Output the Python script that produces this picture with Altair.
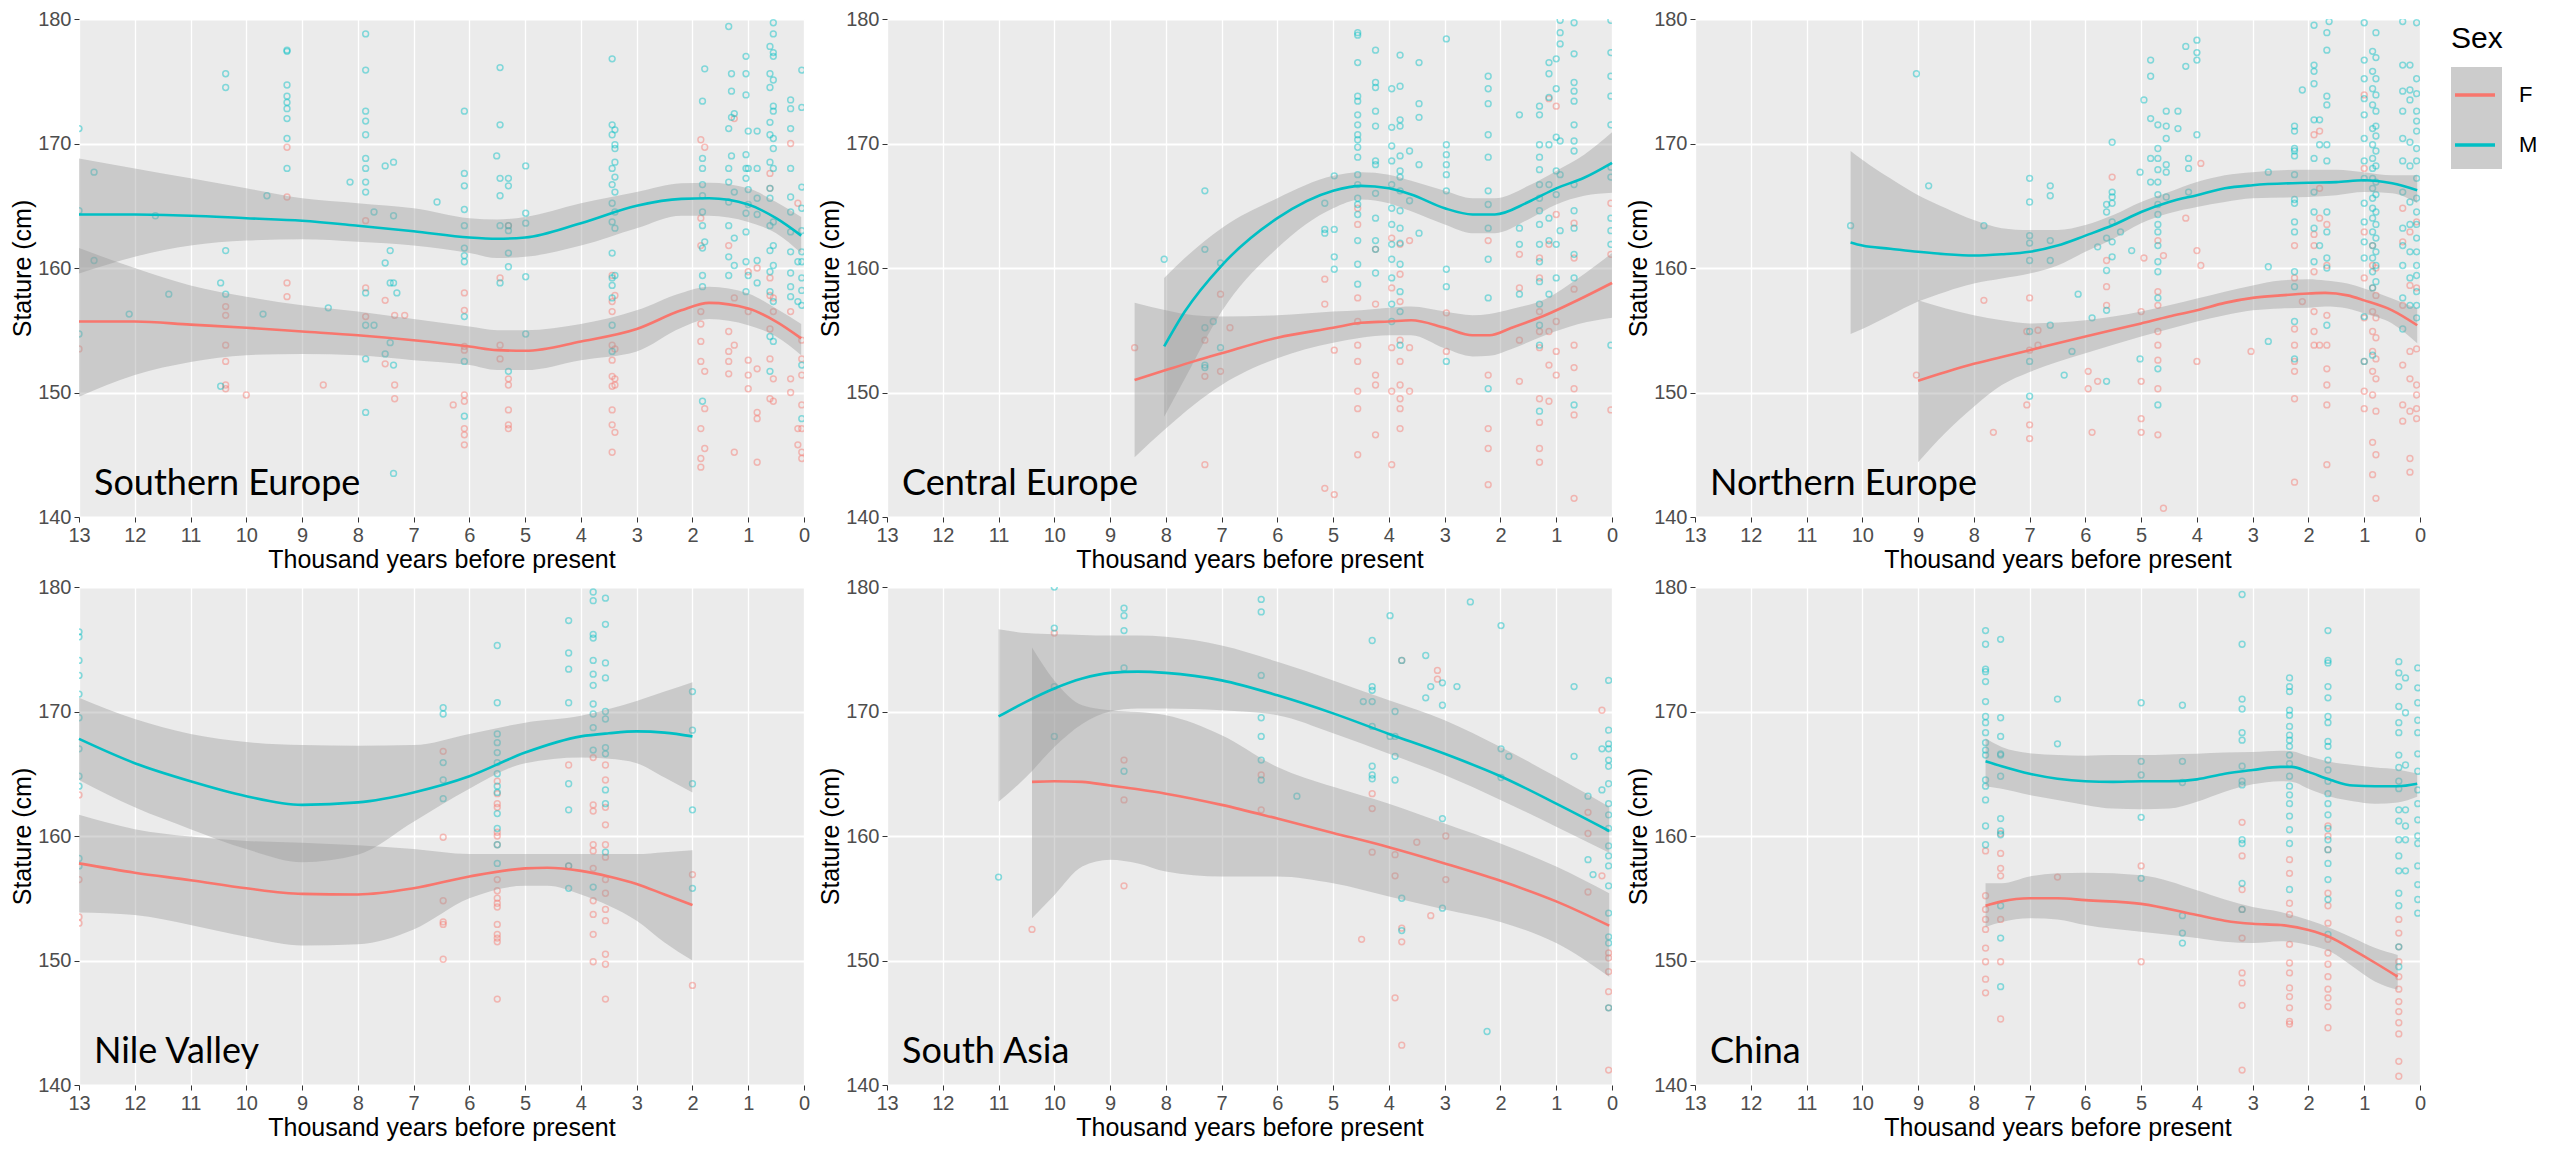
import altair as alt
import pandas as pd

FEMALE = "#F8766D"
MALE = "#00BFC4"
BAND = "#999999"

panel_names = ["Southern Europe", "Central Europe", "Northern Europe",
               "Nile Valley", "South Asia", "China"]
sexes = ["F", "M"]
x_ticks = list(range(0, 14))
y_ticks = [140, 150, 160, 170, 180]

# individual statures: date (thousand years BP) -> list of statures (cm)
se_m = {
    13.0: [171.2, 164.6, 154.7], 12.73: [167.7, 160.6], 12.1: [156.3], 11.63: [164.2],
    11.39: [157.9], 10.46: [158.8, 150.5], 10.37: [175.6, 174.5, 161.4, 157.9],
    9.7: [156.3], 9.63: [165.8],
    9.27: [177.5, 177.4, 174.7, 173.8, 173.3, 172.8, 172.0, 170.4, 168.0],
    8.53: [156.8], 8.14: [166.9],
    7.86: [178.8, 175.9, 172.6, 171.8, 170.7, 168.8, 168.0, 166.9, 166.1, 158.0, 155.4, 152.7, 148.4],
    7.71: [164.5, 155.4], 7.51: [168.2, 160.4, 153.1], 7.42: [161.4, 158.8, 154.0],
    7.36: [168.5, 164.2, 158.8, 152.2, 143.5], 7.3: [158.0], 6.58: [165.3],
    6.09: [172.6, 167.6, 166.6, 164.7, 163.4, 161.6, 161.0, 160.5, 156.1, 152.5, 148.1],
    5.51: [169.0], 5.45: [176.1, 171.5, 167.2, 165.8, 163.4, 158.8],
    5.3: [167.2, 166.6, 163.4, 163.0, 161.2, 160.1, 151.7],
    4.99: [168.2, 164.4, 163.6, 159.3, 154.7],
    3.44: [176.8, 171.5, 170.7, 168.0, 166.7, 165.2, 163.7, 161.2, 159.2, 158.6, 157.6, 155.4, 153.3],
    3.39: [171.1, 169.9, 169.6, 168.5, 167.3, 166.1, 164.5, 163.2, 159.4],
    1.82: [173.4, 168.8, 168.0, 166.7, 165.8, 164.5, 163.4, 161.6, 159.4, 158.5, 149.3],
    1.78: [176.0, 162.1], 1.35: [179.4, 171.2, 168.0, 166.9, 165.3, 163.4, 160.9, 159.4],
    1.30: [175.6, 174.2, 172.1, 169.0], 1.25: [172.4, 166.1, 162.4, 160.2],
    1.04: [177.0, 175.6, 173.9, 169.1, 168.0, 167.2, 164.4, 162.9, 160.5, 158.1],
    1.0: [171.0, 168.0, 166.3, 165.1, 159.4], 0.84: [171.0, 168.0, 165.6, 164.3, 160.6, 158.8],
    0.61: [177.8, 175.6, 174.5, 171.7, 170.7, 168.5, 166.4, 165.6, 163.4, 161.4, 159.7, 158.1, 154.5, 151.7],
    0.55: [179.7, 178.8, 177.3, 177.0, 175.1, 173.0, 172.6, 170.4, 169.6, 168.0, 163.7, 161.8, 160.2, 157.3, 154.1],
    0.24: [173.5, 172.8, 171.2, 168.0, 165.7, 164.5, 162.9, 161.3, 159.6, 158.5, 157.7],
    0.11: [160.5, 157.3],
    0.04: [175.9, 172.9, 166.5, 164.8, 163.0, 161.3, 160.5, 159.2, 158.2, 157.0, 152.2, 147.9],
}
se_f = {
    13.0: [153.5], 10.37: [156.9, 156.2, 153.8, 152.5, 150.6, 150.3], 10.0: [149.8],
    9.27: [169.7, 165.7, 158.8, 157.7], 8.62: [150.6], 7.86: [163.8, 158.4, 156.1],
    7.51: [157.4, 152.3], 7.34: [156.2, 150.6, 149.5], 7.16: [156.2], 6.29: [149.0],
    6.09: [158.0, 156.6, 153.7, 153.4, 149.8, 149.3, 147.1, 146.6, 145.8],
    5.45: [159.2, 153.8, 152.7], 5.3: [163.4, 151.1, 150.6, 148.6, 147.4, 147.1],
    3.44: [159.4, 157.3, 156.5, 153.8, 152.6, 151.3, 150.5, 148.6, 147.4, 145.2],
    3.39: [157.8, 153.5, 151.1, 150.6, 146.8],
    1.85: [170.3, 164.0, 161.8, 156.5, 155.5, 154.1, 152.5, 147.1, 144.7, 144.0],
    1.78: [169.7, 151.7, 148.7, 145.5], 1.35: [161.8, 154.9, 153.3, 152.5, 151.5],
    1.25: [172.0, 157.6, 153.8, 145.2], 1.0: [159.7, 156.5, 152.6, 151.4, 150.3],
    0.84: [160.0, 151.9, 148.4, 147.9, 144.4],
    0.61: [167.6, 166.4, 159.2, 157.8, 155.1, 152.7, 149.5],
    0.55: [157.6, 156.5, 151.1, 149.3], 0.24: [170.0, 156.5, 151.1, 150.0],
    0.11: [165.2, 147.1, 145.8], 0.04: [154.2, 152.7, 151.4, 149.0, 147.1, 145.2, 144.7],
}
ce_m = {
    8.03: [160.7], 7.3: [166.2, 161.5, 155.2, 152.2, 152.0], 7.15: [155.7], 7.02: [160.4, 153.6],
    5.15: [165.2, 163.1, 162.8], 4.98: [167.4, 163.1, 160.9, 159.9],
    4.56: [178.9, 178.7, 176.5, 173.8, 173.4, 172.3, 171.5, 170.7, 170.3, 169.7, 168.9, 167.5,
           166.7, 165.6, 165.1, 164.3, 162.2, 160.3, 158.7],
    4.24: [177.5, 174.9, 174.5, 172.6, 171.4, 168.6, 168.3, 166.0, 164.0, 162.2, 161.5, 159.6],
    3.95: [174.4, 171.3, 169.8, 168.6, 166.7, 164.8, 163.5, 161.9, 160.7, 159.2, 157.1, 155.7],
    3.8: [177.1, 174.6, 171.9, 171.4, 169.0, 167.8, 167.3, 166.2, 164.6, 163.2, 162.0, 160.3,
          158.1, 156.5, 153.8],
    3.63: [169.4, 165.4], 3.46: [176.5, 173.2, 172.1, 168.3, 162.8],
    2.97: [178.4, 169.9, 169.1, 168.3, 167.5, 166.2, 159.9, 158.5, 152.5],
    2.22: [175.4, 174.4, 173.2, 170.7, 168.9, 166.2, 165.1, 163.2, 160.7, 157.6, 150.3],
    1.66: [172.3, 163.2, 161.9, 157.9],
    1.3: [173.0, 172.3, 169.9, 168.9, 167.9, 166.7, 165.6, 164.6, 163.5, 161.9, 160.5, 158.9,
          157.1, 155.4, 153.8, 148.5],
    1.13: [176.5, 175.6, 173.7, 169.9, 166.7, 164.0, 162.2, 157.9],
    1.0: [176.8, 174.4, 170.5, 167.8, 165.9, 161.9, 159.2],
    0.93: [179.9, 178.9, 178.0, 170.2, 167.5, 163.0],
    0.68: [179.7, 177.2, 174.9, 174.2, 173.4, 171.5, 170.2, 169.4, 166.7, 164.6, 163.2, 161.1,
           159.2, 149.0],
    0.02: [179.9, 177.3, 175.4, 173.8, 171.5, 168.1, 167.3, 164.0, 163.0, 161.9, 153.8],
}
ce_f = {
    8.56: [153.6], 7.3: [154.2, 151.3, 144.2], 7.02: [157.9, 151.7], 6.85: [155.2],
    5.15: [159.1, 157.1, 142.3], 4.98: [153.4, 141.8],
    4.56: [164.8, 163.5, 157.6, 155.7, 153.8, 152.5, 150.1, 148.7, 145.0],
    4.24: [161.5, 157.1, 151.4, 150.6, 146.6], 3.95: [162.4, 158.4, 153.6, 150.1, 144.2],
    3.8: [161.9, 159.5, 157.3, 154.2, 152.5, 150.6, 149.5, 148.7, 147.1],
    3.63: [162.2, 153.6, 150.1], 2.97: [156.4, 153.3],
    2.22: [162.2, 151.4, 147.1, 145.5, 142.6], 1.66: [161.1, 158.4, 154.2, 150.9],
    1.3: [160.8, 159.2, 156.5, 154.9, 153.6, 149.5, 147.6, 145.5, 144.4],
    1.13: [173.6, 161.9, 154.9, 152.2, 149.3], 1.0: [173.0, 164.3, 155.7, 153.3, 151.4],
    0.68: [163.6, 160.8, 158.3, 153.8, 152.0, 150.3, 148.2, 141.5], 0.02: [165.2, 161.1, 148.6],
}
ne_m = {
    10.21: [163.4], 9.03: [175.6], 8.81: [166.6], 7.82: [163.4],
    7.0: [167.2, 165.3, 162.6, 162.0, 160.6, 154.9, 152.5, 149.7],
    6.63: [166.6, 165.8, 162.2, 160.6, 155.4], 6.38: [151.4], 6.24: [153.3], 6.13: [157.9],
    5.88: [156.0], 5.78: [161.7], 5.62: [165.1, 164.5, 162.4, 159.8, 156.6, 150.9],
    5.52: [170.1, 166.1, 165.7, 165.2, 163.7, 162.1, 160.9], 5.37: [162.9], 5.17: [161.4],
    5.02: [167.7, 152.7], 4.95: [173.5], 4.83: [176.7, 175.4, 172.0, 168.8, 166.9],
    4.7: [171.5, 169.6, 168.8, 167.9, 166.9, 165.9, 165.1, 164.3, 163.5, 162.9, 161.8, 160.5,
          159.7, 157.6, 151.9, 149.0],
    4.55: [172.6, 171.4, 170.4, 168.3, 167.7, 165.7], 4.34: [172.6, 171.2], 4.2: [177.8, 176.2],
    4.15: [168.8, 168.0, 166.1], 4.0: [178.3, 177.3, 176.7, 170.7], 2.72: [167.7, 160.1, 154.1],
    2.25: [171.4, 171.0, 169.6, 169.4, 169.0, 167.5, 165.5, 165.2, 163.7, 162.9, 159.7, 158.5,
           155.7, 152.7],
    2.11: [174.3], 1.9: [179.5, 176.3, 175.8, 174.8, 171.9, 168.8, 166.1, 164.5, 163.2, 160.5],
    1.8: [171.9, 169.9, 161.8],
    1.67: [178.9, 177.5, 173.8, 173.1, 169.9, 168.6, 164.5, 162.9, 160.8, 160.0, 155.4],
    1.63: [179.8],
    1.0: [179.7, 176.7, 175.2, 173.6, 172.3, 170.4, 168.6, 167.2, 165.2, 163.7, 162.1, 160.8,
          156.1, 152.5],
    0.85: [177.4, 175.8, 174.4, 173.1, 171.2, 169.9, 168.8, 168.0, 167.2, 166.4, 165.6, 164.8,
           164.0, 162.9, 161.8, 160.8, 159.7, 158.4, 153.0],
    0.79: [178.9, 176.9, 175.2, 173.9, 172.6, 171.4, 170.6, 169.4, 168.2, 166.9, 165.9, 164.5,
           163.5, 162.4, 161.3, 160.2, 158.9],
    0.31: [179.8, 176.3, 174.2, 172.6, 170.4, 168.6, 166.1, 163.2, 161.8, 160.2, 157.6, 155.1],
    0.18: [176.3, 174.3, 173.5, 170.1, 168.2, 165.3, 163.5, 161.3, 159.2, 157.0],
    0.06: [179.7, 175.2, 174.0, 172.6, 171.8, 171.0, 169.6, 168.6, 167.2, 165.6, 164.5, 163.5,
           162.4, 161.3, 160.2, 159.4, 158.1, 157.0, 156.0],
}
ne_f = {
    9.03: [151.4], 7.82: [157.4], 7.65: [146.8], 7.05: [154.9, 149.0],
    7.0: [157.6, 153.4, 147.4, 146.3], 6.85: [155.0, 153.8], 5.95: [151.7, 150.3],
    5.88: [146.8], 5.78: [150.9], 5.62: [160.6, 158.5, 157.0], 5.52: [167.3],
    5.0: [156.5, 150.9, 147.9, 146.8], 4.95: [160.8],
    4.7: [162.2, 158.1, 157.0, 154.9, 153.8, 152.6, 150.3, 146.6], 4.6: [161.0, 140.7],
    4.2: [164.0], 4.0: [161.4, 152.5], 3.93: [168.4, 160.2], 3.03: [153.3],
    2.25: [161.8, 159.2, 155.1, 153.8, 152.5, 151.7, 149.5, 142.8], 2.11: [157.3],
    1.9: [170.7, 162.7, 161.8, 159.7, 156.5, 154.9, 153.8], 1.8: [171.0, 166.4, 164.0, 153.8],
    1.67: [163.5, 160.2, 156.2, 153.8, 151.9, 150.6, 149.0, 144.2],
    1.0: [173.9, 168.0, 162.9, 159.2, 156.0, 152.5, 150.1, 148.7],
    0.85: [161.8, 160.2, 158.4, 156.5, 154.9, 153.3, 151.7, 149.8, 146.0, 143.4],
    0.79: [160.0, 157.8, 156.0, 154.4, 152.7, 151.1, 148.5, 145.0, 141.5],
    0.31: [164.8, 162.1, 157.0, 152.2, 149.0, 147.7],
    0.18: [162.9, 158.6, 153.3, 151.1, 148.5, 144.7, 143.6],
    0.06: [163.7, 158.4, 153.5, 150.6, 149.8, 148.7, 147.9],
}
nv_m = {
    13.0: [176.4, 176.0, 174.1, 172.9, 171.4, 169.5, 167.0, 164.8, 164.0, 158.2, 157.6],
    6.47: [170.3, 169.8, 165.9, 164.5, 163.0],
    5.5: [175.3, 170.7, 168.2, 167.5, 166.7, 165.9, 165.0, 164.0, 163.5, 161.8, 160.6, 159.3, 157.8],
    4.22: [177.3, 174.7, 173.4, 170.7, 164.2, 162.1, 157.6, 155.8],
    3.78: [179.6, 178.9, 176.2, 175.9, 174.1, 173.0, 172.1, 170.6, 169.8, 168.7, 166.9, 155.9],
    3.56: [179.1, 177.0, 173.9, 172.7, 170.0, 169.4, 167.1, 166.6, 163.7, 162.6, 158.7],
    2.0: [171.6, 168.5, 164.2, 162.1, 155.8],
}
nv_f = {
    13.0: [163.3, 156.5, 153.5, 153.0], 6.47: [166.8, 159.9, 154.8, 153.1, 152.9, 150.1],
    5.5: [164.4, 163.4, 162.6, 162.3, 160.3, 160.0, 159.3, 156.5, 155.6, 155.0, 154.6, 154.3,
          152.9, 152.1, 151.8, 151.5, 146.9],
    4.22: [165.7, 157.6],
    3.78: [166.3, 162.5, 162.0, 159.3, 158.8, 157.4, 154.8, 153.7, 152.1, 149.9],
    3.56: [165.7, 164.5, 162.3, 160.9, 159.3, 158.3, 156.5, 155.4, 154.1, 153.2, 150.5, 149.7, 146.9],
    2.0: [156.9, 148.0],
}
sa_m = {
    11.0: [156.7], 10.0: [180.0, 176.7, 172.0, 168.0], 8.75: [178.3, 177.7, 176.5, 173.5, 165.2],
    6.29: [179.0, 178.0, 172.9, 169.5, 168.0, 166.1, 164.5], 5.65: [163.2], 4.46: [170.8],
    4.3: [175.7, 172.0, 171.7, 170.8, 168.8, 165.6, 164.9, 164.6], 3.98: [177.7, 168.0],
    3.89: [170.0, 168.0, 166.4, 164.5], 3.77: [174.1, 155.0, 152.4], 3.34: [174.5, 171.1],
    3.25: [172.0], 3.04: [172.3, 170.5, 161.4, 154.2], 2.78: [172.0], 2.54: [178.8],
    2.24: [144.3], 1.99: [176.9, 167.0, 164.7], 1.85: [166.4], 0.68: [172.0, 166.4],
    0.43: [163.2, 158.1], 0.34: [156.9], 0.18: [167.0, 163.7],
    0.06: [172.5, 168.5, 167.4, 167.0, 166.1, 165.6, 164.2, 162.6, 161.7, 160.6, 159.2, 158.4,
           157.6, 156.0, 153.8, 151.9, 151.4, 146.2],
}
sa_f = {
    10.4: [152.5], 10.0: [176.3], 8.75: [166.1, 162.9, 156.0], 6.29: [164.9, 162.1],
    4.49: [151.7], 4.3: [163.4, 162.2, 158.7], 3.89: [158.5, 156.8, 147.0],
    3.77: [174.1, 152.6, 151.5, 143.2], 3.5: [159.5], 3.25: [153.6], 3.13: [173.3, 172.6],
    2.98: [160.0, 156.5], 0.43: [161.9, 160.2, 155.5], 0.18: [170.1, 156.8],
    0.06: [150.6, 150.2, 149.1, 147.5, 146.2, 141.2],
}
cn_m = {
    7.79: [176.5, 175.4, 173.4, 173.2, 172.4, 170.8, 169.6, 169.1, 168.3, 167.5, 166.9, 166.5,
           164.5, 164.0, 162.9, 160.8, 159.3],
    7.52: [175.8, 169.5, 168.0, 166.6, 166.5, 164.8, 161.4, 160.4, 160.1, 154.4, 151.8, 147.9],
    6.5: [171.0, 167.4], 5.0: [170.7, 166.0, 164.9, 161.5, 156.6],
    4.26: [170.5, 166.0, 164.3, 153.6, 152.2, 151.4],
    3.19: [179.4, 175.4, 171.0, 170.2, 168.3, 167.7, 165.6, 164.4, 164.1, 159.7, 159.4, 156.2, 154.1],
    2.34: [172.7, 172.0, 171.6, 170.1, 169.7, 168.8, 168.1, 167.7, 167.2, 166.5, 165.8, 164.8,
           164.0, 163.3, 162.6, 161.6, 160.5, 159.4, 155.7],
    1.65: [176.5, 174.1, 173.9, 172.0, 171.1, 169.6, 169.1, 167.6, 167.2, 166.1, 165.3, 164.4,
           163.4, 162.6, 161.7, 160.6, 159.7, 158.9, 157.8, 156.5, 154.9, 152.1],
    0.38: [174.0, 173.1, 172.0, 170.4, 169.1, 168.3, 166.5, 165.5, 164.4, 163.8, 162.1, 161.2,
           159.7, 158.4, 157.2, 155.4, 154.4, 151.1, 149.5],
    0.26: [172.7, 169.9, 165.7, 162.1, 160.8, 159.7, 157.2],
    0.04: [173.5, 171.9, 170.7, 169.3, 168.3, 166.6, 165.2, 163.7, 162.6, 161.3, 160.0, 159.4,
           157.6, 156.1, 154.9, 153.8],
}
cn_f = {
    7.79: [158.8, 155.2, 154.1, 153.3, 152.5, 151.0, 149.9, 148.5, 147.4],
    7.52: [160.2, 158.6, 157.4, 156.8, 153.3, 149.9, 145.3], 6.5: [156.7], 5.0: [157.6, 149.9],
    3.19: [161.1, 158.4, 155.7, 154.1, 151.8, 149.0, 148.2, 146.4, 141.2],
    2.34: [158.1, 157.0, 154.6, 153.7, 151.3, 149.8, 149.0, 147.8, 147.1, 146.2, 145.1, 144.9],
    1.65: [160.8, 160.0, 158.9, 155.4, 154.4, 153.0, 151.7, 150.6, 149.7, 148.7, 147.7, 147.0,
           146.3, 144.6],
    0.38: [153.3, 152.2, 151.1, 149.9, 148.7, 147.7, 146.7, 145.9, 145.0, 144.1, 141.9, 140.7],
}

# loess fits: (dates, fit, lower 95%, upper 95%)
se_m_fit = (
    [13, 12, 11, 10, 9, 8, 7, 6, 5.5, 5, 4, 3, 2.2, 1.7, 1, 0.5, 0.05],
    [164.3, 164.3, 164.2, 164.0, 163.8, 163.4, 162.95, 162.45, 162.35, 162.45, 163.6, 165.0,
     165.55, 165.6, 165.1, 164.0, 162.6],
    [159.55, 160.9, 161.8, 162.2, 162.3, 162.1, 161.8, 161.2, 160.8, 160.9, 161.8, 163.2,
     164.2, 164.2, 163.7, 162.8, 161.2],
    [168.8, 168.0, 167.2, 166.4, 165.6, 165.2, 164.8, 164.0, 163.9, 164.1, 165.2, 166.1,
     166.8, 166.85, 166.4, 165.3, 164.1],
)
se_f_fit = (
    [13, 12, 11, 10, 9, 8, 7, 6, 5.5, 5, 4, 3, 2.2, 1.7, 1, 0.5, 0.05],
    [155.7, 155.7, 155.45, 155.2, 154.9, 154.6, 154.2, 153.7, 153.4, 153.35, 154.1, 155.1,
     156.6, 157.2, 156.75, 155.7, 154.35],
    [149.65, 151.4, 152.45, 153.0, 153.1, 153.0, 152.6, 152.2, 151.8, 151.8, 152.6, 153.3,
     155.2, 155.9, 155.4, 154.5, 153.0],
    [161.6, 160.0, 158.6, 157.7, 157.0, 156.5, 155.9, 155.3, 155.0, 155.0, 155.5, 156.6,
     158.0, 158.5, 157.95, 156.75, 155.5],
)
ce_m_fit = (
    [8.03, 7.66, 7, 6, 5, 4.5, 4, 3.6, 3, 2.5, 2.1, 1.5, 1, 0.5, 0],
    [153.7, 156.5, 160.2, 164.0, 166.2, 166.6, 166.4, 165.9, 164.8, 164.3, 164.3, 165.3,
     166.4, 167.25, 168.45],
    [148.05, 151.1, 156.5, 161.6, 164.8, 165.5, 165.2, 164.55, 163.5, 162.8, 162.8, 163.9,
     165.1, 165.8, 166.05],
    [159.2, 160.8, 163.2, 165.6, 167.4, 167.7, 167.5, 167.0, 166.2, 165.6, 165.6, 166.6,
     167.8, 169.1, 170.9],
)
ce_f_fit = (
    [8.56, 8, 7.5, 7, 6, 5, 4.5, 4, 3.6, 3, 2.5, 2.2, 1.8, 1.2, 0.6, 0],
    [151.0, 151.8, 152.5, 153.15, 154.4, 155.2, 155.6, 155.7, 155.8, 155.2, 154.6, 154.6,
     155.2, 156.2, 157.45, 158.8],
    [144.8, 147.1, 149.0, 150.6, 152.75, 154.0, 154.4, 154.6, 154.6, 153.55, 152.9, 152.95,
     153.5, 154.6, 155.5, 156.0],
    [157.2, 156.6, 156.2, 156.1, 156.2, 156.5, 156.6, 156.8, 156.9, 156.5, 156.2, 156.3,
     156.7, 157.5, 159.2, 161.2],
)
ne_m_fit = (
    [10.21, 10, 9.5, 9, 8.5, 8, 7.5, 7, 6.5, 6, 5.5, 5, 4.5, 4, 3.5, 3, 2, 1.5, 1, 0.5, 0.05],
    [162.05, 161.8, 161.55, 161.3, 161.1, 161.0, 161.1, 161.3, 161.8, 162.6, 163.45, 164.5,
     165.3, 165.85, 166.4, 166.65, 166.85, 166.9, 167.05, 166.8, 166.25],
    [154.7, 155.1, 156.2, 157.3, 158.1, 158.75, 159.15, 159.55, 160.2, 161.3, 162.35, 163.6,
     164.4, 164.9, 165.3, 165.6, 165.7, 165.85, 166.1, 166.0, 165.2],
    [169.4, 168.7, 167.2, 165.85, 164.8, 163.85, 163.2, 163.05, 163.05, 163.45, 164.25, 165.3,
     166.1, 166.9, 167.45, 167.7, 167.9, 167.9, 167.7, 167.45, 167.45],
)
ne_f_fit = (
    [9, 8.5, 8, 7.5, 7, 6, 5, 4.5, 4, 3.5, 3, 2.5, 2, 1.7, 1.3, 1, 0.5, 0.05],
    [150.95, 151.65, 152.3, 152.85, 153.4, 154.5, 155.55, 156.1, 156.6, 157.2, 157.6, 157.8,
     157.95, 158.0, 157.8, 157.4, 156.6, 155.4],
    [144.4, 146.8, 148.85, 150.6, 151.65, 153.15, 154.5, 155.1, 155.7, 156.2, 156.6, 156.75,
     156.8, 156.9, 156.75, 156.35, 155.55, 153.95],
    [157.4, 156.75, 156.2, 155.8, 155.55, 155.8, 156.5, 157.0, 157.55, 158.1, 158.6, 159.0,
     159.1, 159.0, 158.75, 158.35, 157.55, 156.75],
)
nv_m_fit = (
    [13, 12, 11, 10, 9, 8, 7, 6, 5, 4, 3.5, 3, 2.5, 2],
    [167.8, 165.85, 164.4, 163.2, 162.5, 162.7, 163.5, 164.8, 166.7, 168.0, 168.25, 168.4,
     168.3, 168.0],
    [164.5, 162.3, 160.55, 158.95, 157.9, 158.5, 161.15, 163.8, 165.85, 166.3, 166.2, 165.85,
     164.7, 163.5],
    [171.1, 169.4, 168.2, 167.55, 167.3, 167.25, 167.3, 168.2, 169.1, 169.65, 170.2, 170.85,
     171.6, 172.35],
)
nv_f_fit = (
    [13, 12, 11, 10, 9, 8, 7, 6, 5, 4.6, 4, 3.5, 3, 2.5, 2],
    [157.8, 157.05, 156.45, 155.8, 155.35, 155.3, 155.8, 156.75, 157.4, 157.45, 157.2, 156.75,
     156.15, 155.3, 154.45],
    [153.85, 153.65, 152.85, 151.9, 151.2, 151.3, 152.5, 155.0, 156.0, 156.0, 155.3, 154.4,
     153.2, 151.45, 150.0],
    [161.7, 160.55, 159.95, 159.6, 159.45, 159.25, 158.95, 158.55, 158.55, 158.55, 158.55,
     158.55, 158.55, 158.7, 158.85],
)
sa_m_fit = (
    [11, 10.5, 10, 9.5, 9, 8.5, 8, 7, 6, 5, 4, 3, 2, 1, 0.05],
    [169.6, 170.8, 171.85, 172.65, 173.1, 173.2, 173.1, 172.5, 171.3, 169.85, 168.2, 166.6,
     164.8, 162.6, 160.4],
    [162.75, 164.75, 167.15, 169.0, 170.0, 170.25, 170.25, 170.1, 169.7, 168.25, 166.6, 164.9,
     162.9, 160.75, 158.65],
    [176.6, 176.3, 176.2, 176.15, 176.1, 176.1, 176.0, 175.3, 174.0, 172.5, 170.9, 169.3,
     167.15, 164.75, 162.35],
)
sa_f_fit = (
    [10.4, 10, 9.5, 9, 8.5, 8, 7, 6, 5, 4, 3, 2, 1, 0.05],
    [164.35, 164.4, 164.35, 164.05, 163.75, 163.4, 162.5, 161.4, 160.25, 159.1, 157.8, 156.4,
     154.75, 152.8],
    [153.4, 155.25, 157.55, 158.1, 157.8, 157.15, 156.75, 156.75, 156.2, 155.15, 154.1, 153.1,
     151.4, 148.7],
    [175.15, 172.5, 170.5, 170.1, 169.95, 169.7, 168.1, 165.55, 163.95, 162.6, 161.0, 159.4,
     157.55, 155.4],
)
cn_m_fit = (
    [7.79, 7.5, 7, 6.5, 6, 5.5, 5, 4.5, 4, 3.5, 3, 2.5, 2.3, 2.0, 1.6, 1.2, 0.8, 0.4, 0.05],
    [166.0, 165.6, 165.0, 164.6, 164.4, 164.35, 164.4, 164.4, 164.55, 165.0, 165.3, 165.55,
     165.55, 165.15, 164.5, 164.05, 164.0, 164.0, 164.2],
    [164.0, 163.8, 163.3, 162.9, 162.5, 162.2, 162.15, 162.2, 162.75, 163.55, 164.15, 164.4,
     164.35, 163.8, 163.15, 162.8, 162.6, 162.7, 163.15],
    [167.85, 167.15, 166.65, 166.5, 166.45, 166.5, 166.5, 166.55, 166.6, 166.7, 166.75, 166.85,
     166.8, 166.4, 165.95, 165.7, 165.5, 165.35, 165.0],
)
cn_f_fit = (
    [7.79, 7.5, 7, 6.5, 6, 5, 4, 3.5, 3, 2.5, 2, 1.6, 1.2, 0.8, 0.4],
    [154.4, 154.75, 155.0, 155.0, 154.85, 154.55, 153.65, 153.2, 152.95, 152.85, 152.45,
     151.85, 150.85, 149.8, 148.7],
    [152.7, 153.1, 153.4, 153.3, 152.85, 152.3, 151.8, 151.5, 151.4, 151.55, 151.25, 150.7,
     149.5, 148.3, 147.65],
    [156.2, 156.2, 156.75, 157.0, 157.05, 156.85, 155.65, 154.9, 154.3, 153.9, 153.25, 152.6,
     151.8, 151.0, 150.45],
)

FONT = "Liberation Sans"
sex_scale = alt.Scale(domain=sexes, range=[FEMALE, MALE])
x_scale = alt.Scale(domain=[0, 13], reverse=True, nice=False, zero=False)
y_scale = alt.Scale(domain=[140, 180], nice=False, zero=False)
x_axis = alt.Axis(values=x_ticks, title="Thousand years before present")
y_axis = alt.Axis(values=y_ticks, title="Stature (cm)")

W, H = 725, 498


def to_points(sex, cols):
    rows = [{"kya": k, "stature": v, "sex": sex} for k, vals in cols.items() for v in vals]
    return pd.DataFrame(rows)


def to_curve(sex, curve):
    kya, fit, lo, hi = curve
    return pd.DataFrame({"kya": kya, "fit": fit, "lo": lo, "hi": hi, "sex": sex})


def panel(name, f_pts, m_pts, f_fit, m_fit):
    pts = pd.concat([to_points("F", f_pts), to_points("M", m_pts)])
    fits = pd.concat([to_curve("F", f_fit), to_curve("M", m_fit)])
    x = alt.X("kya:Q", scale=x_scale, axis=x_axis)

    dots = alt.Chart(pts).mark_point(
        filled=False, shape="circle", size=34, strokeWidth=1.5, opacity=0.45, clip=True
    ).encode(
        x=x,
        y=alt.Y("stature:Q", scale=y_scale, axis=y_axis),
        color=alt.Color("sex:N", scale=sex_scale, legend=None),
    )
    band = alt.Chart(fits).mark_area(color=BAND, opacity=0.4, interpolate="monotone").encode(
        x=x,
        y=alt.Y("lo:Q", scale=y_scale, axis=y_axis),
        y2="hi:Q",
        detail="sex:N",
    )
    line = alt.Chart(fits).mark_line(strokeWidth=2.6, interpolate="monotone").encode(
        x=x,
        y=alt.Y("fit:Q", scale=y_scale, axis=y_axis),
        color=alt.Color("sex:N", scale=sex_scale, legend=None),
    )
    label = alt.Chart(pd.DataFrame({"label": [name]})).mark_text(
        font="Lato", fontSize=36, align="left", baseline="alphabetic", color="black"
    ).encode(text="label:N", x=alt.value(15), y=alt.value(H - 22))

    return alt.layer(dots, band, line, label).properties(width=W, height=H)


# hand-built key in the ggplot style: title, grey key box, one line per sex
key_df = pd.DataFrame({"sex": sexes})
key_y = alt.Y("sex:N", scale=alt.Scale(type="point", domain=sexes, range=[76, 126], padding=0),
              axis=None)
key_title = alt.Chart(pd.DataFrame({"t": ["Sex"]})).mark_text(
    font=FONT, fontSize=30, align="left", baseline="alphabetic", color="black"
).encode(text="t:N", x=alt.value(16), y=alt.value(29))
key_box = alt.Chart(pd.DataFrame({"t": ["box"]})).mark_rect(color="#CCCCCC").encode(
    x=alt.value(16), x2=alt.value(67), y=alt.value(48), y2=alt.value(150)
)
key_lines = alt.Chart(key_df).mark_rule(strokeWidth=3.5).encode(
    x=alt.value(20), x2=alt.value(60), y=key_y,
    color=alt.Color("sex:N", scale=sex_scale, legend=None),
)
key_labels = alt.Chart(key_df).mark_text(
    font=FONT, fontSize=22, align="left", baseline="middle", color="black"
).encode(text="sex:N", x=alt.value(84), y=key_y)
key = alt.layer(key_title, key_box, key_lines, key_labels).properties(
    width=110, height=170, view=alt.ViewBackground(fill="white", stroke="transparent")
)

panels = [
    panel(panel_names[0], se_f, se_m, se_f_fit, se_m_fit),
    panel(panel_names[1], ce_f, ce_m, ce_f_fit, ce_m_fit),
    panel(panel_names[2], ne_f, ne_m, ne_f_fit, ne_m_fit),
    panel(panel_names[3], nv_f, nv_m, nv_f_fit, nv_m_fit),
    panel(panel_names[4], sa_f, sa_m, sa_f_fit, sa_m_fit),
    panel(panel_names[5], cn_f, cn_m, cn_f_fit, cn_m_fit),
]

top = alt.hconcat(*panels[:3], key, spacing=7)
bottom = alt.hconcat(*panels[3:], spacing=7)

chart = (
    alt.vconcat(top, bottom, spacing=3)
    .properties(padding={"left": 2, "top": 0, "right": 0, "bottom": 0})
    .configure_view(fill="#EBEBEB", stroke="transparent")
    .configure_axis(
        grid=True, gridColor="white", domain=False, tickColor="#333333", tickSize=5,
        labelColor="#4D4D4D", labelFont=FONT, labelFontSize=20, labelPadding=3,
        titleFont=FONT, titleFontSize=25, titleFontWeight="normal",
        titleColor="black", labelOverlap=False,
    )
    .configure_axisX(gridWidth=1.3, titlePadding=2, labelFlush=False)
    .configure_axisY(gridWidth=2.2, titlePadding=2)
)

chart.save("out.html", embed_options={"renderer": "svg", "actions": False})
